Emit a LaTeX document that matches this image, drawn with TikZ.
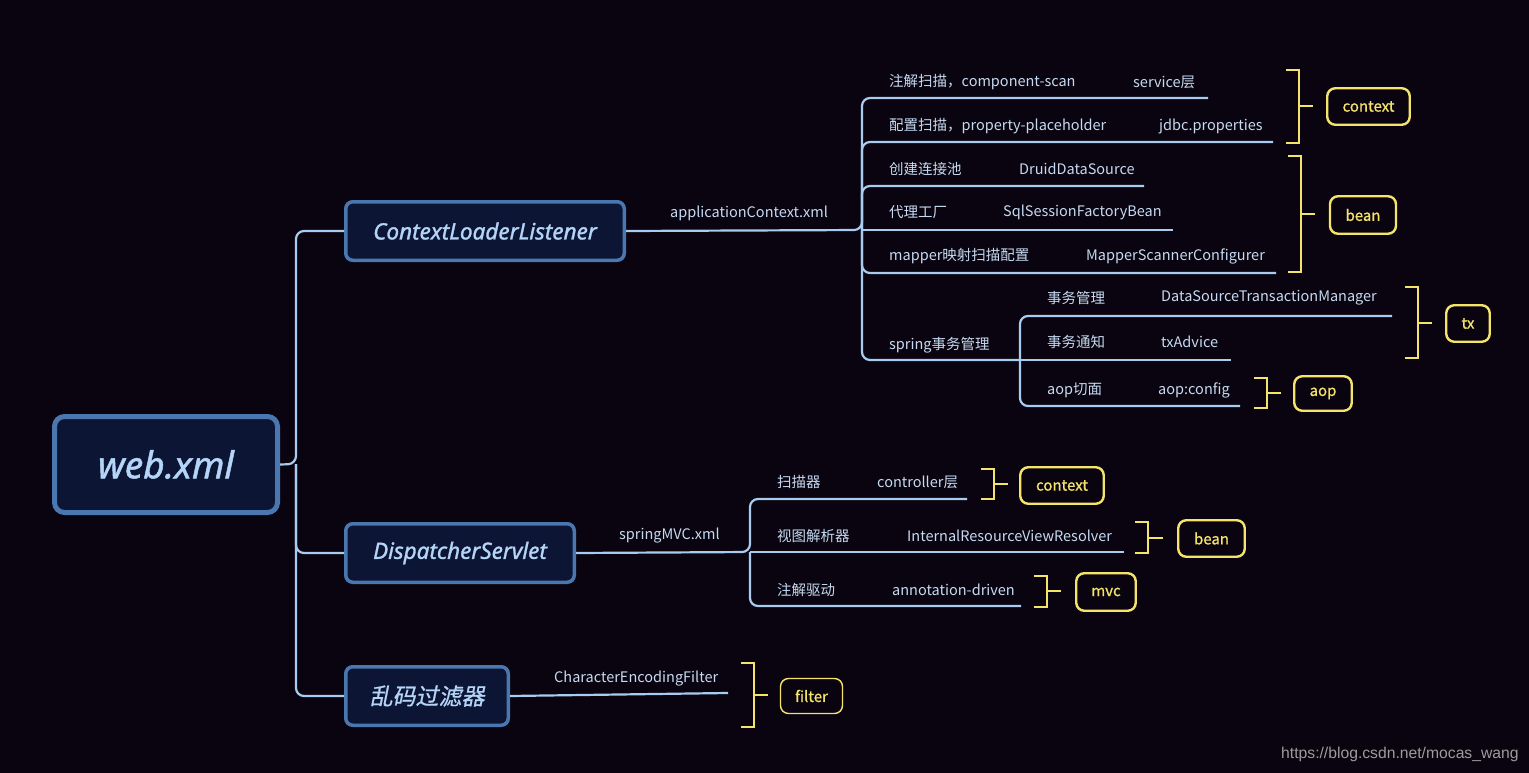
\documentclass[tikz,border=0pt]{standalone}
\usepackage{fontspec}
\setmainfont{Noto Sans CJK SC}
\newfontfamily\titlefont{Noto Sans}[FakeBold=1.3]
\newfontfamily\cjkslant{Noto Sans CJK SC}[FakeSlant=0.2,FakeBold=0.8]
\newfontfamily\tagfont{Noto Sans CJK SC}[FakeBold=0.9]
\newfontfamily\wmfont{Liberation Sans}
\definecolor{bg}{HTML}{09040F}
\definecolor{boxfill}{HTML}{0D1535}
\definecolor{boxline}{HTML}{4A77B0}
\definecolor{boxtext}{HTML}{B4D4F8}
\definecolor{conncol}{HTML}{A9CBF0}
\definecolor{labcol}{HTML}{C6DAF2}
\definecolor{ylw}{HTML}{F5E46A}
\definecolor{wmgray}{HTML}{9C9C9C}
\tikzset{
  topic/.style={draw=boxline, line width=3.5pt, fill=boxfill, rounded corners=7pt,
    text=boxtext, font=\titlefont\itshape\fontsize{22.5}{26}\selectfont, inner sep=0pt},
  conn/.style={draw=conncol, line width=2.2pt, rounded corners=8pt},
  lab/.style={anchor=west, inner sep=0pt, text=labcol, font=\fontsize{14.5}{16}\selectfont},
  ybr/.style={draw=ylw, line width=2.4pt},
  tag/.style={draw=ylw, line width=2.4pt, fill=bg, rounded corners=8pt, text=ylw,
    font=\tagfont\fontsize{15}{17}\selectfont, inner sep=0pt},
}
\begin{document}
\begin{tikzpicture}[x=1pt,y=-1pt]
\fill[bg] (0,0) rectangle (1529,773);
\useasboundingbox (0,0) rectangle (1529,773);

% main topics
\node[topic, line width=5pt, rounded corners=10pt, minimum width=223pt, minimum height=96pt,
  font=\titlefont\itshape\fontsize{37}{42}\selectfont] (web) at (166,464.5) {web.xml};
\node[topic, minimum width=278.5pt, minimum height=58.5pt] (cll) at (485,231) {ContextLoaderListener};
\node[topic, minimum width=228.5pt, minimum height=58.5pt] (ds) at (460,553) {DispatcherServlet};
\node[topic, minimum width=162.5pt, minimum height=58.5pt, font=\cjkslant\fontsize{23}{26}\selectfont] (lm) at (427,696) {乱码过滤器};

\coordinate (j0) at (296,464);
\draw[conn] (web.east) -- (j0) |- (cll.west);
\draw[conn] (j0) |- (ds.west);
\draw[conn] (j0) |- (lm.west);

% applicationContext branch
\node[lab] (actx) at (670,213) {applicationContext.xml};
\coordinate (j1) at (862,230);
\coordinate (e1) at (1208,98);
\coordinate (e2) at (1273,142);
\coordinate (e3) at (1144,186);
\coordinate (e4) at (1173,230);
\coordinate (e5) at (1276,273);
\coordinate (j2) at (1020,360);
\draw[conn] (cll.east) -- (j1) |- (e1);
\draw[conn] (j1) |- (e2);
\draw[conn] (j1) |- (e3);
\draw[conn] (j1) -- (e4);
\draw[conn] (j1) |- (e5);
\draw[conn] (j1) |- (j2);

\node[lab] (a1) at (889,82) {注解扫描，component-scan};
\node[lab] (b1) at (1133,82) {service层};
\node[lab] (a2) at (889,126) {配置扫描，property-placeholder};
\node[lab] (b2) at (1159,126) {jdbc.properties};
\node[lab] (a3) at (889,169) {创建连接池};
\node[lab] (b3) at (1019,169) {DruidDataSource};
\node[lab] (a4) at (889,212) {代理工厂};
\node[lab] (b4) at (1003,212) {SqlSessionFactoryBean};
\node[lab] (a5) at (889,256) {mapper映射扫描配置};
\node[lab] (b5) at (1086,256) {MapperScannerConfigurer};
\node[lab] (a6) at (889,345) {spring事务管理};

% tx sub branch
\coordinate (f1) at (1392,316);
\coordinate (f2) at (1231,360);
\coordinate (f3) at (1240,406);
\draw[conn] (j2) |- (f1);
\draw[conn] (j2) -- (f2);
\draw[conn] (j2) |- (f3);
\node[lab] (c1) at (1047,298) {事务管理};
\node[lab] (d1) at (1161,298) {DataSourceTransactionManager};
\node[lab] (c2) at (1047,342) {事务通知};
\node[lab] (d2) at (1161,342) {txAdvice};
\node[lab] (c3) at (1047,390) {aop切面};
\node[lab] (d3) at (1158,390) {aop:config};

% springMVC branch
\node[lab] (smvc) at (619,536) {springMVC.xml};
\coordinate (j3) at (750,552);
\coordinate (g1) at (967,499);
\coordinate (g2) at (1124,552);
\coordinate (g3) at (1021,606);
\draw[conn] (ds.east) -- (j3) |- (g1);
\draw[conn] (j3) -- (g2);
\draw[conn] (j3) |- (g3);
\node[lab] (m1) at (777,482) {扫描器};
\node[lab] (n1) at (877,482) {controller层};
\node[lab] (m2) at (777,536) {视图解析器};
\node[lab] (n2) at (907,536) {InternalResourceViewResolver};
\node[lab] (m3) at (777,590) {注解驱动};
\node[lab] (n3) at (892,590) {annotation-driven};

% filter branch
\coordinate (h1) at (728,693);
\draw[conn] (lm.east) -- (h1);
\node[lab] (cef) at (554,679) {CharacterEncodingFilter};

% brackets
\draw[ybr] (1286,70) -- (1299,70) -- (1299,143) -- (1286,143) (1299,106) -- (1313,106);
\draw[ybr] (1288,156) -- (1301,156) -- (1301,272) -- (1288,272) (1301,214) -- (1315,214);
\draw[ybr] (1405,287) -- (1418,287) -- (1418,358) -- (1405,358) (1418,323) -- (1432,323);
\draw[ybr] (1254,378) -- (1267,378) -- (1267,408) -- (1254,408) (1267,393) -- (1281,393);
\draw[ybr] (981,469) -- (994,469) -- (994,499) -- (981,499) (994,484) -- (1008,484);
\draw[ybr] (1135,522) -- (1148,522) -- (1148,553) -- (1135,553) (1148,538) -- (1163,538);
\draw[ybr] (1034,576) -- (1047,576) -- (1047,607) -- (1034,607) (1047,591) -- (1061,591);
\draw[ybr] (741,663) -- (754,663) -- (754,727) -- (741,727) (754,695) -- (768,695);

% tags
\node[tag, minimum width=82.5pt, minimum height=36.5pt] (t1) at (1368.5,106.5) {context};
\node[tag, minimum width=66pt, minimum height=37.5pt] (t2) at (1363,215) {bean};
\node[tag, minimum width=43.5pt, minimum height=36.5pt] (t3) at (1468,323.5) {tx};
\node[tag, minimum width=57.5pt, minimum height=34.5pt] (t4) at (1323,393.5) {aop};
\node[tag, minimum width=83.5pt, minimum height=36.5pt] (t5) at (1062,485.5) {context};
\node[tag, minimum width=66.5pt, minimum height=36.5pt] (t6) at (1211.5,538.5) {bean};
\node[tag, minimum width=59.5pt, minimum height=37.5pt] (t7) at (1106,592) {mvc};
\node[tag, line width=1.4pt, minimum width=62pt, minimum height=35pt] (t8) at (811.5,696) {filter};

% watermark
\node[anchor=west, inner sep=0pt, text=wmgray, font=\wmfont\fontsize{15.7}{17}\selectfont] (wm) at (1281,754) {https://blog.csdn.net/mocas\_wang};
\end{tikzpicture}
\end{document}
